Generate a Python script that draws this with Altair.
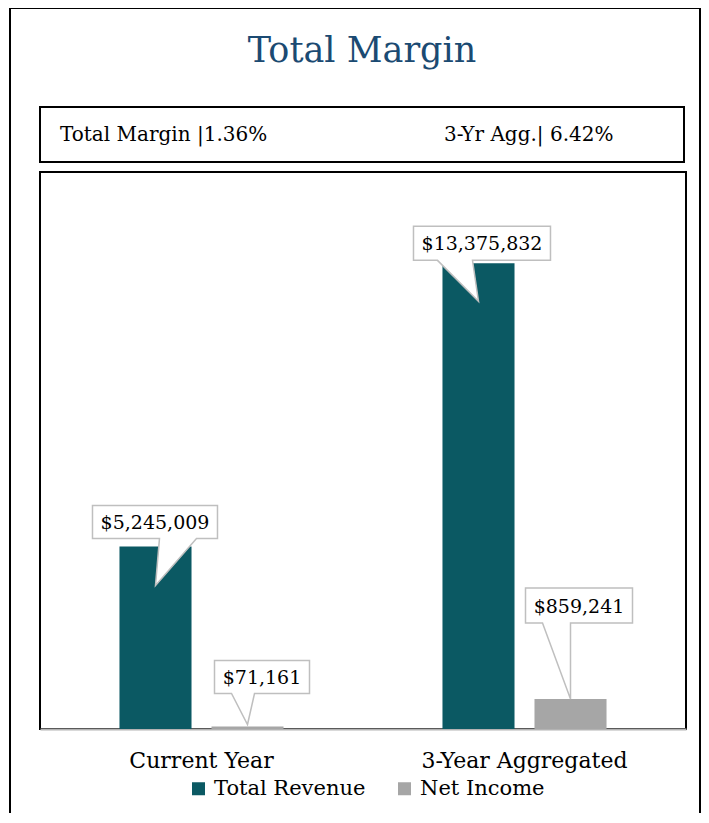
import altair as alt
import pandas as pd

# ---- data ----
categories = ["Current Year", "3-Year Aggregated"]
series = ["Total Revenue", "Net Income"]
total_revenue = [5245009, 13375832]
net_income = [71161, 859241]
summary_labels = ["Total Margin |1.36%", "3-Yr Agg.| 6.42%"]
title_text = "Total Margin"

rows = []
for i, c in enumerate(categories):
    rows.append({"category": c, "series": series[0], "value": total_revenue[i]})
    rows.append({"category": c, "series": series[1], "value": net_income[i]})
df = pd.DataFrame(rows)

# ---- style / layout ----
FONT = "DejaVu Serif"
TEAL = "#0b5963"
GREY = "#a6a6a6"
W, H = 646, 557

# callout geometry in px relative to the top-centre of each bar
callouts = {
    ("Current Year", "Total Revenue"): dict(box=(-63, -41, 62, -8), ptr=[(41, -8), (0, 39), (4, -8)]),
    ("Current Year", "Net Income"): dict(box=(-33, -66, 62, -33), ptr=[(7, -33), (0, -2), (-16, -33)]),
    ("3-Year Aggregated", "Total Revenue"): dict(box=(-65, -37, 72, -3), ptr=[(-6, -3), (0, 38), (-41, -3)]),
    ("3-Year Aggregated", "Net Income"): dict(box=(-45, -111, 62, -76), ptr=[(0, -76), (0, 0), (-28, -76)]),
}
SYM_SCALE = 100.0  # size 40000 -> 1 path unit = 100 px


def callout_path(box, ptr):
    x0, y0, x1, y1 = box
    pts = [(x0, y0), (x1, y0), (x1, y1)] + ptr + [(x0, y1)]
    return "M" + " L".join(f"{px / SYM_SCALE:.3f},{py / SYM_SCALE:.3f}" for px, py in pts) + " Z"


x_enc = alt.X(
    "category:N",
    sort=categories,
    scale=alt.Scale(type="band", domain=categories, paddingInner=0.43, paddingOuter=0.215),
    title=None,
    axis=alt.Axis(
        labelAngle=0, ticks=False, domainColor="#b3b3b3", domainWidth=2,
        labelFont=FONT, labelFontSize=22, labelColor="black", labelPadding=21,
        labelLimit=400, grid=False,
    ),
)
xoff_enc = alt.XOffset(
    "series:N", sort=series,
    scale=alt.Scale(domain=series, paddingInner=0.217, paddingOuter=0.109),
)
y_enc = alt.Y("value:Q", scale=alt.Scale(domain=[0, 16000000], nice=False), axis=None)

base = alt.Chart(df)

bars = base.mark_bar().encode(
    x=x_enc,
    xOffset=xoff_enc,
    y=y_enc,
    color=alt.Color(
        "series:N",
        scale=alt.Scale(domain=series, range=[TEAL, GREY]),
        legend=alt.Legend(
            title=None, orient="none", legendX=148, legendY=606, direction="horizontal",
            symbolType="square", symbolSize=169, symbolStrokeWidth=0,
            labelFont=FONT, labelFontSize=21, labelColor="black", labelOffset=5,
            columnPadding=28, padding=0, labelLimit=300,
        ),
    ),
)

layers = []
one = pd.DataFrame({"k": [0]})
frame = alt.Chart(one).mark_rect(fillOpacity=0, stroke="black", strokeWidth=2).encode(
    x=alt.value(-30), x2=alt.value(660), y=alt.value(-164), y2=alt.value(H + 200)
)
info_box = alt.Chart(one).mark_rect(fillOpacity=0, stroke="black", strokeWidth=2).encode(
    x=alt.value(0), x2=alt.value(644), y=alt.value(-65), y2=alt.value(-10)
)
title = alt.Chart(one).mark_text(
    text=title_text, font=FONT, fontSize=35, color="#1b4a72", align="center", baseline="middle"
).encode(x=alt.value(322), y=alt.value(-121))
info1 = alt.Chart(one).mark_text(
    text=summary_labels[0], font=FONT, fontSize=20, color="black", align="left", baseline="middle"
).encode(x=alt.value(20), y=alt.value(-37))
info2 = alt.Chart(one).mark_text(
    text=summary_labels[1], font=FONT, fontSize=20, color="black", align="left", baseline="middle"
).encode(x=alt.value(404), y=alt.value(-37))

layers += [frame, info_box, title, info1, info2, bars]

for (c, s), g in callouts.items():
    filt = (alt.datum.category == c) & (alt.datum.series == s)
    x0, y0, x1, y1 = g["box"]
    shape = base.transform_filter(filt).mark_point(
        shape=callout_path(g["box"], g["ptr"]), size=40000, filled=True,
        fill="white", stroke="#bfbfbf", strokeWidth=1.5, opacity=1,
    ).encode(x=x_enc, xOffset=xoff_enc, y=y_enc)
    label = base.transform_filter(filt).mark_text(
        font=FONT, fontSize=19, color="black", align="center", baseline="middle",
        dx=(x0 + x1) / 2, dy=(y0 + y1) / 2 + 1,
    ).encode(x=x_enc, xOffset=xoff_enc, y=y_enc, text=alt.Text("value:Q", format="$,.0f"))
    layers += [shape, label]

chart = alt.layer(*layers).properties(
    width=W, height=H,
    padding={"left": 32, "top": 164, "right": 15, "bottom": 84},
    autosize=alt.AutoSizeParams(type="none"),
).configure(
    background="white",
    view=alt.ViewConfig(stroke="black", strokeWidth=2),
)

chart.save("out.html", embed_options={"renderer": "svg", "actions": False})
